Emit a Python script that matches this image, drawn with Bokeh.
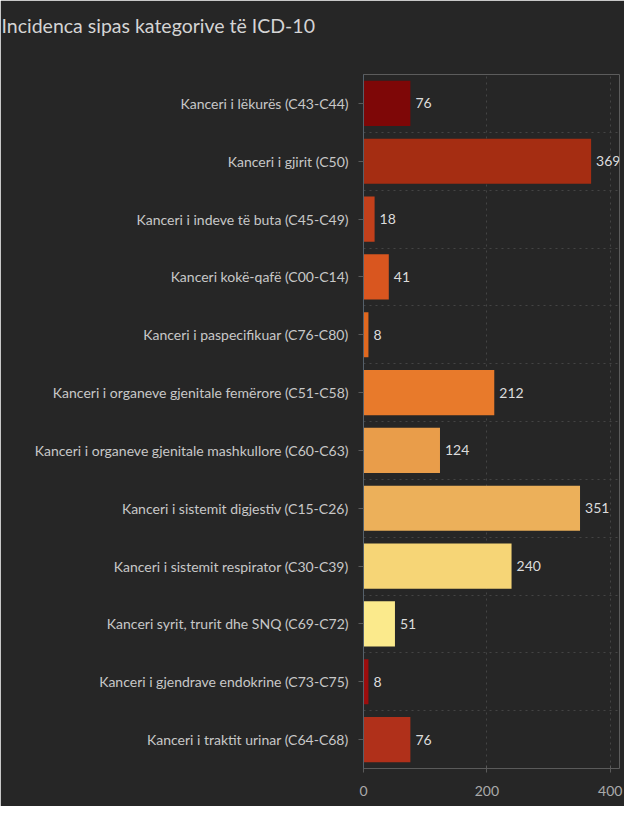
from bokeh.plotting import figure
from bokeh.models import ColumnDataSource, FactorRange, FixedTicker, Range1d, LabelSet, Title
from bokeh.core.properties import value
from bokeh.embed import file_html
from bokeh.resources import INLINE

title_text = "Incidenca sipas kategorive të ICD-10"
categories = [
    "Kanceri i lëkurës (C43-C44)",
    "Kanceri i gjirit (C50)",
    "Kanceri i indeve të buta (C45-C49)",
    "Kanceri kokë-qafë (C00-C14)",
    "Kanceri i paspecifikuar (C76-C80)",
    "Kanceri i organeve gjenitale femërore (C51-C58)",
    "Kanceri i organeve gjenitale mashkullore (C60-C63)",
    "Kanceri i sistemit digjestiv (C15-C26)",
    "Kanceri i sistemit respirator (C30-C39)",
    "Kanceri syrit, trurit dhe SNQ (C69-C72)",
    "Kanceri i gjendrave endokrine (C73-C75)",
    "Kanceri i traktit urinar (C64-C68)",
]
counts = [76, 369, 18, 41, 8, 212, 124, 351, 240, 51, 8, 76]
colors = ["#7e0707", "#a52d12", "#c2401b", "#d9561f", "#e0681f", "#e87a2b",
          "#e99d4a", "#ecb05a", "#f6d576", "#fbea8c", "#9c0d0d", "#b0301a"]
x_ticks = [0, 200, 400]

BG = "#262626"
FONT = "Lato"

src = ColumnDataSource(dict(cat=categories, val=counts, col=colors,
                            lab=[str(v) for v in counts]))

p = figure(width=624, height=806, output_backend="svg", toolbar_location=None,
           title=None,
           y_range=FactorRange(factors=categories[::-1]),
           x_range=Range1d(0, 415),
           background_fill_color=BG, border_fill_color=BG,
           outline_line_color=None,
           min_border_left=363, min_border_right=5,
           min_border_top=74, min_border_bottom=38)

p.hbar(y="cat", right="val", left=0, height=0.78, fill_color="col",
       line_color=None, source=src)
labels = LabelSet(x="val", y="cat", text="lab", x_offset=5, source=src,
                  text_baseline="middle", text_align="left",
                  text_font=value(FONT), text_font_size="14px",
                  text_color="#dcdcdc")
p.add_layout(labels)

# spacer between title and plot frame (added first = closest to the frame)
spacer = Title(text=" ", text_font_size="1px", text_color=BG, standoff=30)
p.add_layout(spacer, "above")
# title (outer panel)
title = Title(text=title_text, text_font=FONT, text_font_size="19.5px",
              text_font_style="normal", text_color="#d4d4d4", align="left",
              vertical_align="bottom", offset=-362, standoff=10)
p.add_layout(title, "above")

# y axis
ya = p.yaxis[0]
ya.major_label_text_font = FONT
ya.major_label_text_font_size = "14px"
ya.major_label_text_color = "#c8c8c8"
ya.axis_line_color = "#55606a"
ya.major_tick_line_color = "#5a5a5a"
ya.major_tick_out = 5
ya.major_tick_in = 0
ya.major_label_standoff = 10

# x axis
xa = p.xaxis[0]
xa.ticker = FixedTicker(ticks=x_ticks)
xa.bounds = (0, 400)
xa.major_label_text_font = FONT
xa.major_label_text_font_size = "14px"
xa.major_label_text_color = "#aaaaaa"
xa.axis_line_color = "#5a5a5a"
xa.major_tick_line_color = "#5a5a5a"
xa.major_tick_in = 3
xa.major_tick_out = 4
xa.minor_tick_line_color = None
xa.major_label_standoff = 13

# grids
p.xgrid.ticker = FixedTicker(ticks=[200, 400])
p.xgrid.grid_line_color = "#444444"
p.xgrid.grid_line_dash = "2 4"
p.ygrid.ticker = FixedTicker(ticks=list(range(1, len(categories) + 1)))
p.ygrid.grid_line_color = "#444444"
p.ygrid.grid_line_dash = "2 4"

open("out.html", "w").write(file_html(p, INLINE))
